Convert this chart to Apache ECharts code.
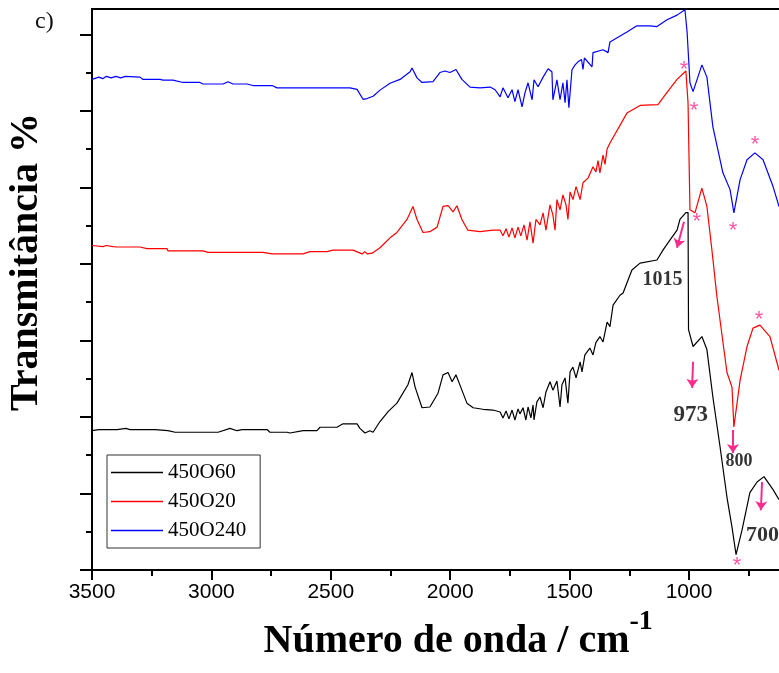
<!DOCTYPE html>
<html>
<head>
<meta charset="utf-8">
<script src="https://cdn.jsdelivr.net/npm/echarts@6/dist/echarts.min.js"></script>
<style>
  html, body { margin: 0; padding: 0; background: #fff; }
  #chart { width: 779px; height: 673px; }
</style>
</head>
<body>
<div id="chart"></div>
<script>
// wavenumber (cm-1) / transmittance (arbitrary, offset)
var wn60 = [3500, 3471, 3395, 3358, 3341, 3236, 3182, 3152, 2972, 2922, 2893, 2872, 2767, 2755, 2683, 2671, 2616, 2558, 2545, 2474,
  2449, 2390, 2378, 2357, 2336, 2323, 2294, 2260, 2223, 2177, 2160, 2147, 2118, 2085, 2051, 2030, 2009, 1992, 1976, 1951,
  1930, 1904, 1863, 1821, 1791, 1779, 1766, 1754, 1741, 1729, 1716, 1708, 1695, 1683, 1674, 1662, 1653, 1649, 1637, 1624,
  1611, 1599, 1582, 1570, 1553, 1540, 1532, 1519, 1507, 1498, 1486, 1473, 1456, 1448, 1436, 1415, 1402, 1390, 1373, 1360,
  1343, 1331, 1318, 1289, 1276, 1239, 1205, 1134, 1109, 1080, 1050, 1038, 1013, 1004, 1002, 983, 946, 925, 900, 870,
  841, 820, 803, 778, 745, 715, 686, 648, 623];
var t60 = [18.2, 18.35, 18.35, 18.5, 18.35, 18.35, 18.2, 18.0, 18.0, 18.5, 18.2, 18.35, 18.35, 18.0, 18.0, 17.9, 18.2, 18.2, 18.65, 18.65,
  19.1, 19.1, 18.5, 17.9, 18.2, 18.0, 19.4, 20.7, 21.8, 24.2, 25.8, 23.9, 21.2, 21.3, 23.1, 25.5, 25.8, 24.6, 25.5, 23.5,
  21.8, 21.2, 21.0, 20.9, 20.65, 19.87, 20.78, 19.74, 20.9, 19.6, 21.05, 20.4, 21.2, 19.6, 21.3, 19.87, 21.57, 19.6, 21.96, 22.6,
  21.2, 23.27, 24.6, 23.5, 24.7, 21.3, 24.2, 25.1, 21.8, 25.9, 26.5, 25.1, 27.2, 25.9, 28.1, 29.0, 28.1, 29.7, 30.5, 29.8,
  32.4, 31.8, 34.6, 35.9, 36.2, 39.2, 40.1, 40.5, 41.8, 43.1, 44.4, 45.8, 46.7, 46.7, 31.4, 29.2, 30.5, 28.8, 22.6, 16.1,
  9.5, 5.6, 2.0, 5.2, 10.1, 11.5, 12.2, 10.5, 9.2];

var wn20 = [3500, 3454, 3440, 3412, 3395, 3299, 3270, 3186, 3182, 3035, 3014, 2784, 2746, 2616, 2587, 2516, 2491, 2407, 2369, 2357,
  2348, 2327, 2294, 2252, 2223, 2181, 2156, 2139, 2114, 2085, 2055, 2030, 2009, 1988, 1972, 1951, 1926, 1875, 1821, 1791,
  1779, 1766, 1754, 1741, 1729, 1716, 1704, 1691, 1678, 1666, 1653, 1641, 1624, 1611, 1599, 1582, 1570, 1561, 1553, 1540,
  1528, 1515, 1507, 1498, 1486, 1473, 1456, 1444, 1423, 1402, 1390, 1381, 1373, 1360, 1352, 1343, 1331, 1260, 1205, 1130,
  1092, 1050, 1013, 1004, 996, 975, 946, 925, 904, 883, 841, 820, 812, 786, 757, 732, 703, 661, 623];
var t20 = [42.4, 42.25, 42.4, 42.25, 42.2, 42.2, 42.0, 42.0, 41.7, 41.7, 41.5, 41.5, 41.3, 41.3, 41.6, 41.6, 41.8, 41.8, 41.3, 41.6,
  41.3, 41.4, 42.1, 43.4, 44.1, 45.8, 47.5, 45.8, 44.1, 44.2, 44.8, 47.5, 47.6, 46.8, 47.6, 45.8, 44.4, 44.2, 44.4, 44.4,
  43.66, 44.58, 43.5, 44.7, 43.4, 44.8, 43.66, 45.1, 43.1, 45.5, 42.7, 45.8, 45.1, 46.67, 44.4, 47.7, 46.4, 44.4, 48.4, 47.06,
  49.0, 47.7, 45.8, 49.4, 48.4, 50.1, 48.4, 50.6, 51.2, 52.7, 52.0, 53.5, 51.9, 54.2, 53.0, 55.0, 55.8, 59.7, 60.7, 60.8,
  62.4, 64.1, 65.2, 61.0, 47.06, 46.67, 49.9, 47.5, 41.8, 35.7, 25.8, 23.9, 18.7, 24.8, 29.2, 31.6, 32.0, 30.5, 26.1];

var wn240 = [3500, 3471, 3455, 3440, 3420, 3400, 3380, 3360, 3299, 3286, 3215, 3203, 3161, 3119, 3048, 3035, 2951, 2930, 2910, 2851,
  2826, 2746, 2725, 2420, 2390, 2365, 2348, 2323, 2294, 2252, 2210, 2168, 2160, 2139, 2118, 2072, 2043, 2022, 2001, 1976,
  1951, 1917, 1875, 1833, 1812, 1791, 1779, 1758, 1741, 1729, 1716, 1699, 1687, 1674, 1657, 1649, 1632, 1611, 1590, 1574,
  1570, 1553, 1540, 1528, 1519, 1511, 1503, 1490, 1477, 1465, 1450, 1444, 1438, 1406, 1402, 1360, 1339, 1331, 1260, 1218,
  1163, 1134, 1092, 1050, 1017, 1008, 996, 983, 946, 925, 900, 858, 828, 812, 786, 757, 724, 690, 648, 623];
var t240 = [64.1, 64.4, 64.2, 64.5, 64.3, 64.5, 64.3, 64.5, 64.4, 64.1, 64.1, 64.0, 64.0, 63.7, 63.7, 63.5, 63.5, 63.8, 63.5, 63.5,
  63.3, 63.3, 63.0, 63.0, 62.8, 61.5, 61.6, 61.9, 62.7, 63.6, 64.1, 65.1, 65.6, 64.3, 63.7, 63.8, 65.0, 65.2, 65.0, 65.4,
  64.1, 63.1, 63.0, 63.1, 62.75, 61.83, 63.0, 61.7, 62.75, 61.2, 62.75, 60.5, 62.35, 63.66, 61.44, 64.05, 63.14, 64.4, 65.5, 65.1,
  61.44, 64.05, 61.44, 63.66, 61.05, 64.05, 60.4, 65.36, 66.0, 66.4, 66.7, 65.4, 66.9, 65.75, 67.6, 67.97, 67.6, 69.0, 70.3, 71.1,
  71.1, 71.0, 71.9, 72.5, 73.2, 70.3, 63.66, 62.5, 66.0, 64.4, 57.9, 51.9, 49.7, 46.67, 51.0, 53.6, 54.5, 53.6, 50.1, 47.5];

// annotations
var starWn = [1021, 979, 967, 724, 816, 707, 799];
var starT = [66.1, 60.8, 46.3, 56.3, 45.1, 33.5, 1.3];
var arrowFrom = [[1021, 45.5], [983, 27.2], [816, 18.3], [694, 11.5]];
var arrowTo = [[1050, 42.1], [987, 23.8], [816, 15.3], [699, 7.8]];
var labelText = ['1015', '973', '800', '700'];
var labelWn = [1111, 993, 791, 692];
var labelT = [37.9, 20.3, 14.2, 4.5];
var labelSize = [20, 23, 18, 22];

var yTicks = [0, 10, 20, 30, 40, 50, 60, 70];
var pink = '#ff2a8c';

function pairs(xs, ys) {
  return xs.map(function (x, i) { return [x, ys[i]]; });
}

var chart = echarts.init(document.getElementById('chart'));

var option = {
  animation: false,
  title: {
    text: 'c)', left: 30, top: 5,
    textStyle: { fontFamily: 'Liberation Serif', fontSize: 24, fontWeight: 'normal', color: '#111' }
  },
  grid: {
    left: 92, top: 9, width: 716.4, height: 561, outerBoundsMode: 'none',
    show: true, borderColor: '#000', borderWidth: 2
  },
  legend: {
    data: ['450O60', '450O20', '450O240'],
    orient: 'vertical', left: 107, top: 455,
    icon: 'rect', itemWidth: 52, itemHeight: 1.5, itemGap: 8,
    padding: [7, 14, 7, 4],
    borderColor: '#333', borderWidth: 1,
    selectedMode: false,
    textStyle: { fontFamily: 'Liberation Serif', fontSize: 21, color: '#000' }
  },
  xAxis: {
    type: 'value', inverse: true, min: 500, max: 3500, interval: 500,
    name: '{t|Número de onda / cm}{s|-1}',
    nameLocation: 'middle', nameGap: 27,
    nameTextStyle: {
      padding: [0, 0, 0, 16],
      rich: {
        t: { fontFamily: 'Liberation Serif', fontWeight: 'bold', fontSize: 40, color: '#000', padding: [14, 0, 0, 0], verticalAlign: 'bottom' },
        s: { fontFamily: 'Liberation Serif', fontWeight: 'bold', fontSize: 28, color: '#000', verticalAlign: 'top' }
      }
    },
    axisLine: { lineStyle: { color: '#000', width: 2 } },
    axisTick: { length: 10, lineStyle: { color: '#000', width: 2 } },
    minorTick: { show: true, splitNumber: 2, length: 6, lineStyle: { color: '#000', width: 2 } },
    axisLabel: {
      fontFamily: 'Liberation Sans', fontSize: 21, color: '#000', margin: 12,
      formatter: function (v) { return String(v); }
    },
    splitLine: { show: false }
  },
  yAxis: {
    type: 'value', min: 0, max: 73.3, interval: 10,
    name: 'Transmitância %', nameLocation: 'middle', nameGap: 45,
    nameTextStyle: { fontFamily: 'Liberation Serif', fontWeight: 'bold', fontSize: 40, color: '#000', padding: [0, 0, 0, 55] },
    axisLine: { lineStyle: { color: '#000', width: 2 } },
    axisTick: { length: 12, customValues: yTicks, lineStyle: { color: '#000', width: 2 } },
    minorTick: { show: true, splitNumber: 2, length: 6, lineStyle: { color: '#000', width: 2 } },
    axisLabel: { show: false },
    splitLine: { show: false }
  },
  series: [
    {
      name: '450O60', type: 'line', symbol: 'none', color: '#000',
      lineStyle: { color: '#000', width: 1.2 }, data: pairs(wn60, t60)
    },
    {
      name: '450O20', type: 'line', symbol: 'none', color: '#ff0000',
      lineStyle: { color: '#ff0000', width: 1.2 }, data: pairs(wn20, t20)
    },
    {
      name: '450O240', type: 'line', symbol: 'none', color: '#0000ff',
      lineStyle: { color: '#0000ff', width: 1.2 }, data: pairs(wn240, t240)
    },
    {
      name: 'stars', type: 'scatter', silent: true, symbolSize: 1,
      itemStyle: { color: 'rgba(0,0,0,0)' },
      label: {
        show: true, position: 'inside', formatter: '*', color: pink,
        fontFamily: 'Liberation Sans', fontSize: 22, offset: [0, 6]
      },
      data: pairs(starWn, starT),
      markLine: {
        silent: true, symbol: ['none', 'arrow'], symbolSize: 9,
        lineStyle: { color: pink, width: 2, type: 'solid' },
        label: { show: false },
        data: arrowFrom.map(function (p, i) {
          return [{ coord: p }, { coord: arrowTo[i] }];
        })
      }
    },
    {
      name: 'peaks', type: 'scatter', silent: true, symbolSize: 1,
      itemStyle: { color: 'rgba(0,0,0,0)' },
      data: labelText.map(function (s, i) {
        return {
          value: [labelWn[i], labelT[i]],
          label: {
            show: true, position: 'inside', formatter: s, color: '#000',
            fontFamily: 'Liberation Serif', fontWeight: 'bold', fontSize: labelSize[i]
          }
        };
      })
    }
  ]
};

chart.setOption(option);
</script>
</body>
</html>
